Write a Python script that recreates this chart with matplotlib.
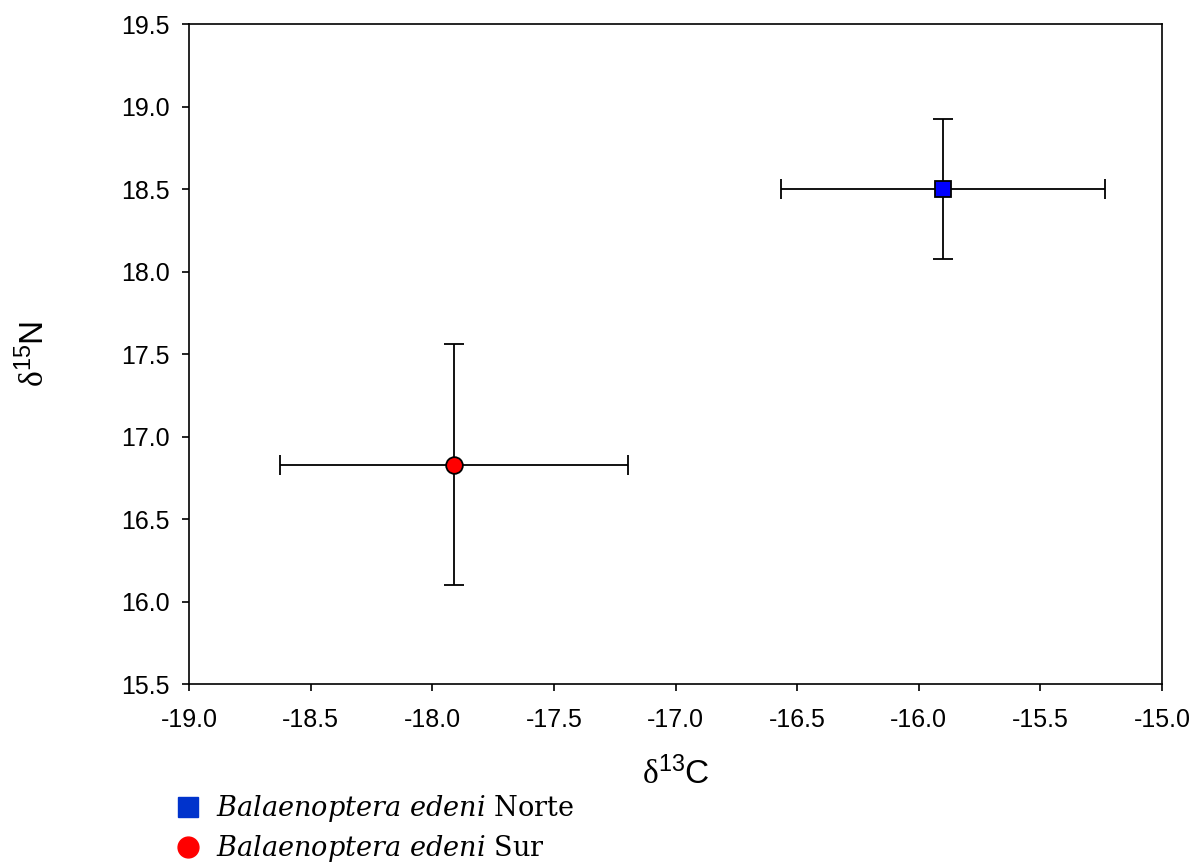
import matplotlib
matplotlib.use("Agg")
import matplotlib.pyplot as plt
from matplotlib.lines import Line2D

plt.rcParams["font.family"] = ["Liberation Sans", "DejaVu Sans"]
plt.rcParams["mathtext.fontset"] = "custom"
plt.rcParams["mathtext.rm"] = "Liberation Serif"
plt.rcParams["mathtext.it"] = "DejaVu Serif:italic"
plt.rcParams["mathtext.sf"] = "Liberation Sans"

# mean ± SD of stable isotope values per group
groups = ["Norte", "Sur"]
d13c_mean = [-15.90, -17.91]
d13c_sd = [0.665, 0.715]
d15n_mean = [18.50, 16.83]
d15n_sd = [0.425, 0.73]
markers = ["s", "o"]
colors = ["#0000FF", "#FF0000"]
legend_colors = ["#0033CC", "#FF0000"]

xticks = [-19.0, -18.5, -18.0, -17.5, -17.0, -16.5, -16.0, -15.5, -15.0]
yticks = [15.5, 16.0, 16.5, 17.0, 17.5, 18.0, 18.5, 19.0, 19.5]

fig = plt.figure(figsize=(11.96, 8.67), dpi=100)
ax = fig.add_axes([0.158, 0.211, 0.8136, 0.7613])

for i in range(len(groups)):
    ax.errorbar(d13c_mean[i], d15n_mean[i], xerr=d13c_sd[i], yerr=d15n_sd[i],
                fmt=markers[i], color="black", ecolor="black", elinewidth=1.3,
                capsize=7, capthick=1.3, markersize=11 if markers[i] == "s" else 12,
                markerfacecolor=colors[i], markeredgecolor="black",
                markeredgewidth=1.3, zorder=3)

ax.set_xlim(-19.0, -15.0)
ax.set_ylim(15.5, 19.5)
ax.set_xticks(xticks)
ax.set_yticks(yticks)
ax.set_xticklabels([f"{v:.1f}" for v in xticks])
ax.set_yticklabels([f"{v:.1f}" for v in yticks])
ax.tick_params(direction="out", length=5, width=1.2, labelsize=18, pad=9,
               top=False, right=False)
ax.tick_params(axis="x", pad=12)
for sp in ax.spines.values():
    sp.set_linewidth(1.2)

ax.set_xlabel(r"$\mathrm{δ}^{\mathsf{13}}\mathsf{C}$", fontsize=24, labelpad=18)
ax.set_ylabel(r"$\mathrm{δ}^{\mathsf{15}}\mathsf{N}$", fontsize=24, labelpad=50)

handles = [Line2D([], [], linestyle="none", marker=markers[i],
                  markerfacecolor=legend_colors[i], markeredgecolor=legend_colors[i],
                  markersize=15)
           for i in range(len(groups))]
labels = [r"$\mathit{Balaenoptera\ edeni}$ " + g for g in groups]
leg = fig.legend(handles, labels, loc="upper left", bbox_to_anchor=(0.147, 0.085),
                 frameon=False, fontsize=19.5, handlelength=0.9, handletextpad=0.6,
                 labelspacing=0.33, borderaxespad=0, borderpad=0)
for t in leg.get_texts():
    t.set_family("DejaVu Serif")

fig.savefig("out.png", dpi=100)
